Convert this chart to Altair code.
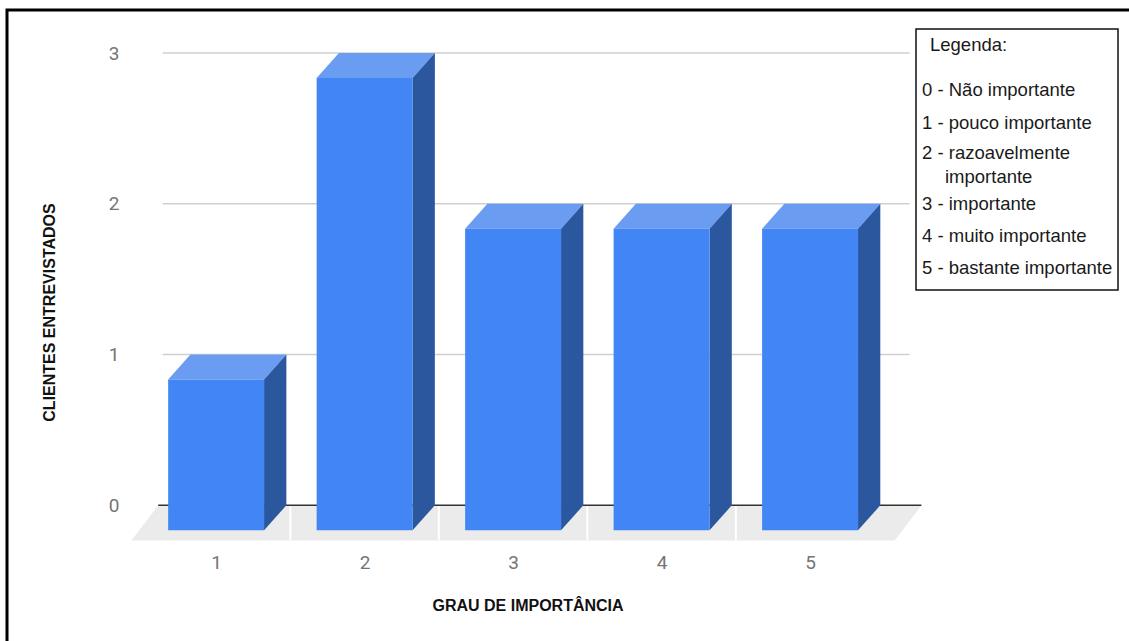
import altair as alt
import pandas as pd

# ---------------- data ----------------
categories = [1, 2, 3, 4, 5]
values = [1, 3, 2, 2, 2]
y_ticks = [0, 1, 2, 3]
grid_levels = [1, 2, 3]
x_title = "GRAU DE IMPORTÂNCIA"
y_title = "CLIENTES ENTREVISTADOS"
legend_title = "Legenda:"
legend_lines = [
    "0 - Não importante",
    "1 - pouco importante",
    "2 - razoavelmente",
    "importante",
    "3 - importante",
    "4 - muito importante",
    "5 - bastante importante",
]

# ---------------- layout / style ----------------
W, H = 795, 490
PAD_L, PAD_T = 130, 53
X_DOMAIN = [0.42, 5.774]
Y_DOMAIN = [-0.25, 3.0]
HALF = 0.323      # half bar width (x units)
DX = 0.15         # 3D depth, x units
DY = 0.166        # 3D depth, y units
FLOOR_PAD = 0.57
FLOOR_DX = 0.18
FLOOR_DY = 0.233
GRID_X = [0.64, 5.67]

FRONT = "#4285f4"
SIDE = "#2b579e"
TOP = "#6a9df2"
FONT = "Liberation Sans"

xs = alt.Scale(domain=X_DOMAIN, nice=False, zero=False)
ys = alt.Scale(domain=Y_DOMAIN, nice=False, zero=False)

x_axis = alt.Axis(
    values=categories, format="d", grid=False, domain=False, ticks=False,
    tickSize=0, labelFont="Roboto", labelFontSize=19, labelColor="#757575",
    labelPadding=10, titleFont=FONT, titleFontSize=16, titleFontWeight="bold",
    titleColor="#111111", titleY=62, titleBaseline="middle")
y_axis = alt.Axis(
    values=y_ticks, format="d", grid=False, domain=False, ticks=False,
    tickSize=0, labelFont="Roboto", labelFontSize=19, labelColor="#757575",
    labelPadding=11, titleFont=FONT, titleFontSize=16, titleFontWeight="bold",
    titleColor="#111111", titleX=-81, titleY=259, titleAngle=270,
    titleAlign="center", titleBaseline="middle")


def X(field="x:Q"):
    return alt.X(field, scale=xs, axis=x_axis, title=x_title)


def Y(field="y:Q"):
    return alt.Y(field, scale=ys, axis=y_axis, title=y_title)


# faces
front = pd.DataFrame({
    "cat": categories,
    "x": [c - HALF for c in categories],
    "x2": [c + HALF for c in categories],
    "y": [-DY for _ in categories],
    "y2": [v - DY for v in values],
})

side_rows, top_rows = [], []
for c, v in zip(categories, values):
    side_rows += [
        {"cat": c, "x": c + HALF, "y": v - DY, "y2": -DY},
        {"cat": c, "x": c + HALF + DX, "y": v, "y2": 0},
    ]
    top_rows += [
        {"cat": c, "x": c - HALF, "y": v - DY, "y2": v - DY},
        {"cat": c, "x": c - HALF + DX, "y": v, "y2": v - DY},
        {"cat": c, "x": c + HALF, "y": v, "y2": v - DY},
        {"cat": c, "x": c + HALF + DX, "y": v, "y2": v},
    ]
side = pd.DataFrame(side_rows)
top = pd.DataFrame(top_rows)

fl = categories[0] - FLOOR_PAD
fr = categories[-1] + FLOOR_PAD
floor = pd.DataFrame({
    "k": [0, 0, 0, 0],
    "x": [fl, fl + FLOOR_DX, fr, fr + FLOOR_DX],
    "y": [-FLOOR_DY, 0, 0, 0],
    "y2": [-FLOOR_DY, -FLOOR_DY, -FLOOR_DY, 0],
})
seps = pd.DataFrame({
    "x": [c + 0.5 for c in categories[:-1]],
    "y": [-FLOOR_DY] * (len(categories) - 1),
    "y2": [0.0] * (len(categories) - 1),
})
grid = pd.DataFrame({
    "y": grid_levels,
    "x": [GRID_X[0]] * len(grid_levels),
    "x2": [GRID_X[1]] * len(grid_levels),
})
zero = pd.DataFrame({"y": [0.0], "x": [fl + FLOOR_DX], "x2": [fr + FLOOR_DX]})

floor_layer = alt.Chart(floor).mark_area(color="#ebebeb").encode(
    x=X(), y=Y(), y2="y2:Q", detail="k:N")
sep_layer = alt.Chart(seps).mark_rule(color="white", strokeWidth=2).encode(
    x=X(), y=Y(), y2="y2:Q")
grid_layer = alt.Chart(grid).mark_rule(color="#cfcfcf", strokeWidth=1.5).encode(
    y=Y(), x=X(), x2="x2:Q")
zero_layer = alt.Chart(zero).mark_rule(color="#333333", strokeWidth=1.5).encode(
    y=Y(), x=X(), x2="x2:Q")
top_layer = alt.Chart(top).mark_area(color=TOP).encode(
    x=X(), y=Y(), y2="y2:Q", detail="cat:N")
side_layer = alt.Chart(side).mark_area(color=SIDE).encode(
    x=X(), y=Y(), y2="y2:Q", detail="cat:N")
front_layer = alt.Chart(front).mark_rect(color=FRONT).encode(
    x=X(), x2="x2:Q", y=Y(), y2="y2:Q")

# ---------------- annotation boxes (pixel positions) ----------------
boxes = pd.DataFrame({
    "name": ["border", "legend"],
    "px": [-123, 786], "px2": [1010, 988],
    "py": [-43, -24], "py2": [607, 237],
})
border = alt.Chart(boxes).transform_filter(alt.datum.name == "border").mark_rect(
    fill="transparent", stroke="black", strokeWidth=3).encode(
    x=alt.X("px:Q", scale=None), x2="px2:Q", y=alt.Y("py:Q", scale=None), y2="py2:Q")
lbox = alt.Chart(boxes).transform_filter(alt.datum.name == "legend").mark_rect(
    fill="white", stroke="#111111", strokeWidth=1.5).encode(
    x=alt.X("px:Q", scale=None), x2="px2:Q", y=alt.Y("py:Q", scale=None), y2="py2:Q")

leg = pd.DataFrame({
    "t": [legend_title] + legend_lines,
    "px": [800, 792, 792, 792, 815, 792, 792, 792],
    "py": [-8, 37, 70, 100, 124, 151, 183, 215],
})
texts = alt.Chart(leg).mark_text(
    align="left", baseline="middle", font=FONT, fontSize=18.5, color="#1a1a1a").encode(
    text="t:N", x=alt.X("px:Q", scale=None), y=alt.Y("py:Q", scale=None))

chart = alt.layer(
    floor_layer, sep_layer, grid_layer, zero_layer,
    top_layer, side_layer, front_layer, border, lbox, texts
).properties(
    width=W, height=H,
    autosize=alt.AutoSizeParams(type="none"),
    padding={"left": PAD_L, "top": PAD_T, "right": 1129 - PAD_L - W, "bottom": 641 - PAD_T - H},
    background="white",
).configure_view(stroke=None)

chart.save("out.html", embed_options={"renderer": "svg", "actions": False})
